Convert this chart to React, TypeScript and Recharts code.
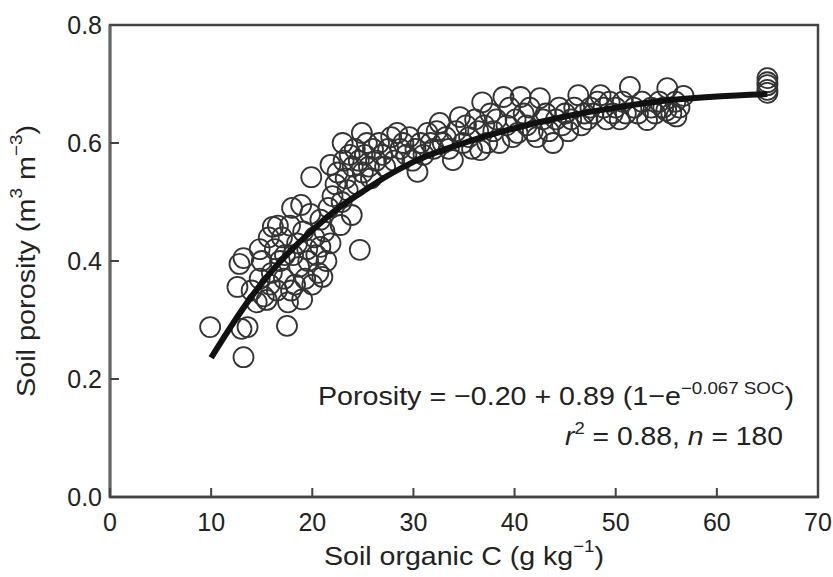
import React from 'react';
import { ScatterChart, Scatter, XAxis, YAxis, ReferenceArea } from 'recharts';

// Soil organic C (g/kg) for each sample
const socValues = [
  9.9, 13.2, 13.6, 13.0, 12.6, 13.2, 12.8, 14.0, 14.5, 14.8,
  15.2, 15.5, 15.8, 16.0, 16.1, 16.3, 16.5, 16.8, 17.0, 17.2, 17.5, 17.6, 17.8, 18.0, 18.1,
  18.3, 18.5, 18.7, 18.9, 19.0, 19.1, 19.3, 19.5, 19.6, 19.8, 20.0, 20.2, 20.4, 20.6, 20.8,
  20.8, 21.0, 21.2, 21.4, 21.6, 21.8, 15.0, 15.7, 16.6, 17.3, 17.9, 14.8, 19.9, 21.8, 22.0,
  22.3, 22.5, 22.8, 22.9, 23.1, 23.3, 23.5, 23.7, 23.9, 24.0, 24.2, 24.4, 24.6, 24.7, 24.9,
  25.0, 25.2, 25.4, 25.6, 25.8, 26.0, 26.3, 26.6, 26.9, 27.2,
  27.5, 27.8, 28.1, 28.4, 28.7, 29.0, 29.3, 29.6, 29.9, 30.2, 30.4, 30.7, 31.0, 31.4, 31.7,
  32.0, 32.3, 32.6, 32.9, 33.2, 33.5, 33.9, 34.2, 34.6, 34.9, 35.2, 35.5, 35.8, 36.1, 36.4,
  36.6, 36.8, 37.0, 37.3, 37.6, 37.9, 38.2, 38.5, 38.9, 39.2, 39.5, 39.8, 40.1, 40.3, 40.6,
  40.9, 41.2, 41.5, 41.8, 42.2, 42.5, 42.8, 43.1, 43.4, 43.8, 44.1, 44.4, 44.7, 45.0, 45.3,
  45.6, 45.9, 46.3, 46.6, 46.9,
  47.2, 47.5, 47.8, 48.2, 48.5, 48.8, 49.1, 49.4, 49.7, 50.0, 50.4, 50.7, 51.0, 51.4, 51.8,
  52.2, 52.6, 53.1, 53.5, 53.9, 54.3, 54.7, 55.1, 55.5, 55.9, 56.3, 56.7,
  65.0, 65.0, 65.0, 65.0, 65.0,
  55.0, 56.0, 23.0,
];

// Soil porosity (m3/m3), same order as socValues
const porosityValues = [
  0.288, 0.237, 0.288, 0.285, 0.356, 0.405, 0.395, 0.35, 0.33, 0.37,
  0.34, 0.334, 0.36, 0.38, 0.458, 0.42, 0.35, 0.4, 0.44, 0.37, 0.29, 0.33, 0.46, 0.49, 0.41,
  0.36, 0.43, 0.39, 0.495, 0.335, 0.45, 0.37, 0.42, 0.4, 0.48, 0.36, 0.44, 0.41, 0.38, 0.47,
  0.424, 0.373, 0.45, 0.4, 0.49, 0.43, 0.4, 0.44, 0.46, 0.41, 0.35, 0.42, 0.542, 0.563, 0.51,
  0.53, 0.55, 0.461, 0.5, 0.57, 0.54, 0.52, 0.58, 0.478, 0.56, 0.59, 0.53, 0.57, 0.419, 0.617,
  0.55, 0.58, 0.6, 0.56, 0.54, 0.59, 0.57, 0.6, 0.58, 0.56,
  0.59, 0.61, 0.57, 0.617, 0.59, 0.6, 0.58, 0.61, 0.57, 0.59, 0.551, 0.6, 0.58, 0.617, 0.6,
  0.59, 0.62, 0.634, 0.6, 0.61, 0.59, 0.571, 0.62, 0.644, 0.6, 0.63, 0.61, 0.59, 0.64, 0.62,
  0.588, 0.669, 0.63, 0.6, 0.65, 0.62, 0.64, 0.6, 0.678, 0.63, 0.66, 0.61, 0.64, 0.617, 0.678,
  0.65, 0.63, 0.66, 0.62, 0.61, 0.676, 0.64, 0.65, 0.62, 0.6, 0.64, 0.66, 0.63, 0.65, 0.62,
  0.64, 0.66, 0.681, 0.63, 0.65,
  0.64, 0.66, 0.65, 0.67, 0.681, 0.66, 0.64, 0.67, 0.65, 0.66, 0.64, 0.67, 0.65, 0.695, 0.66,
  0.65, 0.67, 0.639, 0.66, 0.65, 0.67, 0.66, 0.693, 0.65, 0.67, 0.66, 0.68,
  0.71, 0.698, 0.685, 0.69, 0.703,
  0.655, 0.645, 0.6,
];

// fitted curve
const fitSoc = [10, 12, 14, 16, 18, 20, 22, 25, 28, 30, 35, 40, 45, 50, 55, 60, 65];
const fitPorosity = [0.236, 0.29, 0.34, 0.383, 0.42, 0.452, 0.482, 0.518, 0.55, 0.568, 0.6, 0.625, 0.645, 0.66, 0.672, 0.679, 0.683];

const xTicks = [0, 10, 20, 30, 40, 50, 60, 70];
const yTicks = [0, 0.2, 0.4, 0.6, 0.8];

const points = socValues.map((x, i) => ({ x, y: porosityValues[i] }));
const fitData = fitSoc.map((x, i) => ({ x, y: fitPorosity[i] }));

const textColor = '#222';
const font = '"Liberation Sans", Arial, Helvetica, sans-serif';

const XTick = (props: any) => {
    const { x, y, payload } = props;
    const axisY = y - 12;
    return (
        <g>
            <line x1={x} x2={x} y1={axisY} y2={axisY - 9} stroke="#444" strokeWidth={2} />
            <text x={x} y={axisY + 25} textAnchor="middle" dominantBaseline="central" fill={textColor} fontSize={25} fontFamily={font}>
                {payload.value}
            </text>
        </g>
    );
};

const YTick = (props: any) => {
    const { x, y, payload } = props;
    const axisX = x + 8;
    return (
        <g>
            <line x1={axisX} x2={axisX + 9} y1={y} y2={y} stroke="#444" strokeWidth={2} />
            <text x={axisX - 8} y={y} textAnchor="end" dominantBaseline="central" fill={textColor} fontSize={25} fontFamily={font}>
                {payload.value.toFixed(1)}
            </text>
        </g>
    );
};

const Ring = (props: any) => (
    <circle cx={props.cx} cy={props.cy} r={10} fill="none" stroke="#333" strokeWidth={1.8} />
);

const App = () => {
    return (
        <div style={{ position: 'absolute', left: 0, top: 0, width: 833, height: 577, overflow: 'hidden' }}>
            <ScatterChart width={833} height={577} margin={{ top: 25, right: 15, bottom: 20, left: 30 }}>
                <XAxis
                    type="number"
                    dataKey="x"
                    domain={[0, 70]}
                    ticks={xTicks}
                    height={60}
                    tickSize={0}
                    tickMargin={12}
                    tick={<XTick />}
                    axisLine={{ stroke: '#444', strokeWidth: 2.5 }}
                />
                <YAxis
                    type="number"
                    dataKey="y"
                    domain={[0, 0.8]}
                    ticks={yTicks}
                    width={80}
                    tickSize={0}
                    tickMargin={8}
                    tick={<YTick />}
                    axisLine={{ stroke: '#666', strokeWidth: 3 }}
                />
                <ReferenceArea x1={0} x2={70} y1={0} y2={0.8} fill="none" stroke="#444" strokeWidth={2.5} />
                <Scatter data={points} shape={<Ring />} isAnimationActive={false} />
                <Scatter
                    data={fitData}
                    shape={() => <g />}
                    line={{ stroke: '#111', strokeWidth: 6 }}
                    lineJointType="monotoneX"
                    isAnimationActive={false}
                />
            </ScatterChart>
            <svg width={833} height={577} style={{ position: 'absolute', left: 0, top: 0, pointerEvents: 'none' }}>
                <text
                    x={26}
                    y={261}
                    transform="rotate(-90 26 261)"
                    textAnchor="middle"
                    dominantBaseline="central"
                    fill={textColor}
                    fontSize={26}
                    fontFamily={font}
                    textLength={272}
                    lengthAdjust="spacingAndGlyphs"
                >
                    Soil porosity (m<tspan fontSize={17} dy={-10}>3</tspan>
                    <tspan dy={10}> m</tspan>
                    <tspan fontSize={17} dy={-10}>−3</tspan>
                    <tspan dy={10}>)</tspan>
                </text>
                <text
                    x={464}
                    y={556}
                    textAnchor="middle"
                    dominantBaseline="central"
                    fill={textColor}
                    fontSize={26}
                    fontFamily={font}
                    textLength={280}
                    lengthAdjust="spacingAndGlyphs"
                >
                    Soil organic C (g kg<tspan fontSize={17} dy={-10}>−1</tspan>
                    <tspan dy={10}>)</tspan>
                </text>
                <text
                    x={318}
                    y={405}
                    fill={textColor}
                    fontSize={26}
                    fontFamily={font}
                    textLength={476}
                    lengthAdjust="spacingAndGlyphs"
                >
                    Porosity = −0.20 + 0.89 (1−e<tspan fontSize={17} dy={-11}>−0.067 SOC</tspan>
                    <tspan dy={11}>)</tspan>
                </text>
                <text
                    x={783}
                    y={445}
                    textAnchor="end"
                    fill={textColor}
                    fontSize={26}
                    fontFamily={font}
                    textLength={218}
                    lengthAdjust="spacingAndGlyphs"
                >
                    <tspan fontStyle="italic">r</tspan>
                    <tspan fontSize={17} dy={-11}>2</tspan>
                    <tspan dy={11}> = 0.88, </tspan>
                    <tspan fontStyle="italic">n</tspan> = 180
                </text>
            </svg>
        </div>
    );
};

export default App;
